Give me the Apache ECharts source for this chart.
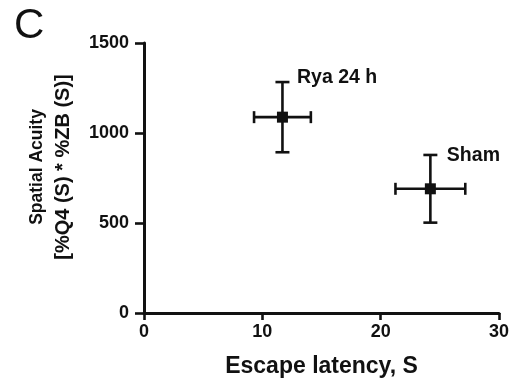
<!DOCTYPE html>
<html>
<head>
<meta charset="utf-8">
<script src="https://cdn.jsdelivr.net/npm/echarts@6/dist/echarts.min.js"></script>
<style>
  html, body { margin: 0; padding: 0; background: #fff; }
  #chart { width: 510px; height: 379px; }
</style>
</head>
<body>
<div id="chart"></div>
<script>
// Group means and SEM
const groups = ['Rya 24 h', 'Sham'];
const latency = [11.7, 24.2];
const latencyErr = [2.4, 2.95];
const acuity = [1088, 690];
const acuityErr = [195, 188];
const xTicks = [0, 10, 20, 30];
const yTicks = [0, 500, 1000, 1500];

const font = 'Liberation Sans, Arial, Helvetica, sans-serif';
const ink = '#111';

// where each group's name sits relative to its marker
const labelOffsets = { 'Rya 24 h': [20, -44], 'Sham': [22, -38] };

const points = groups.map((g, i) => ({
  name: g,
  value: [latency[i], acuity[i]],
  label: { position: labelOffsets[g] }
}));
const errData = groups.map((g, i) => [latency[i], acuity[i], latencyErr[i], acuityErr[i]]);

const chart = echarts.init(document.getElementById('chart'));

function errorBars(params, api) {
  const x = api.value(0), y = api.value(1), ex = api.value(2), ey = api.value(3);
  const c = api.coord([x, y]);
  const l = api.coord([x - ex, y]), r = api.coord([x + ex, y]);
  const t = api.coord([x, y + ey]), b = api.coord([x, y - ey]);
  const capV = 6, capH = 7;
  const style = { stroke: ink, lineWidth: 2.6 };
  const seg = (x1, y1, x2, y2) => ({ type: 'line', shape: { x1, y1, x2, y2 }, style });
  return {
    type: 'group',
    children: [
      seg(l[0], c[1], r[0], c[1]),
      seg(c[0], t[1], c[0], b[1]),
      seg(l[0], c[1] - capV, l[0], c[1] + capV),
      seg(r[0], c[1] - capV, r[0], c[1] + capV),
      seg(c[0] - capH, t[1], c[0] + capH, t[1]),
      seg(c[0] - capH, b[1], c[0] + capH, b[1])
    ]
  };
}

const tickLabel = { fontFamily: font, fontSize: 18, fontWeight: 'bold', color: ink, formatter: v => String(v) };

chart.setOption({
  animation: false,
  backgroundColor: '#fff',
  title: {
    text: 'C',
    left: 9,
    top: 0,
    textStyle: { fontFamily: font, fontSize: 42, fontWeight: 'normal', color: ink }
  },
  grid: { left: 144, right: 11, top: 43, bottom: 66, containLabel: false, outerBoundsMode: 'none' },
  xAxis: {
    type: 'value',
    min: xTicks[0],
    max: xTicks[xTicks.length - 1],
    interval: 10,
    name: 'Escape latency, S',
    nameLocation: 'middle',
    nameGap: 42,
    nameTextStyle: { fontFamily: font, fontSize: 23, fontWeight: 'bold', color: ink },
    axisLine: { lineStyle: { color: ink, width: 3 } },
    axisTick: { inside: false, length: 7, lineStyle: { color: ink, width: 2.6 } },
    axisLabel: Object.assign({ margin: 10 }, tickLabel),
    splitLine: { show: false }
  },
  yAxis: {
    type: 'value',
    min: yTicks[0],
    max: yTicks[yTicks.length - 1],
    interval: 500,
    name: '{a|Spatial Acuity}\n{b|[%Q4 (S) * %ZB (S)]}',
    nameLocation: 'middle',
    nameGap: 68,
    nameTextStyle: {
      fontFamily: font, fontWeight: 'bold', color: ink,
      padding: [0, 0, 0, 22],
      rich: {
        a: { fontFamily: font, fontSize: 17.5, fontWeight: 'bold', color: ink, lineHeight: 26 },
        b: { fontFamily: font, fontSize: 20, fontWeight: 'bold', color: ink, lineHeight: 26 }
      }
    },
    axisLine: { lineStyle: { color: ink, width: 3 } },
    axisTick: { inside: false, length: 9, lineStyle: { color: ink, width: 2.6 } },
    axisLabel: Object.assign({ margin: 15 }, tickLabel),
    splitLine: { show: false }
  },
  series: [
    {
      type: 'custom',
      renderItem: errorBars,
      data: errData,
      z: 2
    },
    {
      type: 'scatter',
      symbol: 'rect',
      symbolSize: 11,
      itemStyle: { color: ink, opacity: 1 },
      data: points,
      z: 3,
      label: {
        show: true,
        formatter: p => p.name,
        fontFamily: font,
        fontSize: 19.5,
        fontWeight: 'bold',
        color: ink
      },
      emphasis: { disabled: true }
    }
  ]
});
</script>
</body>
</html>
